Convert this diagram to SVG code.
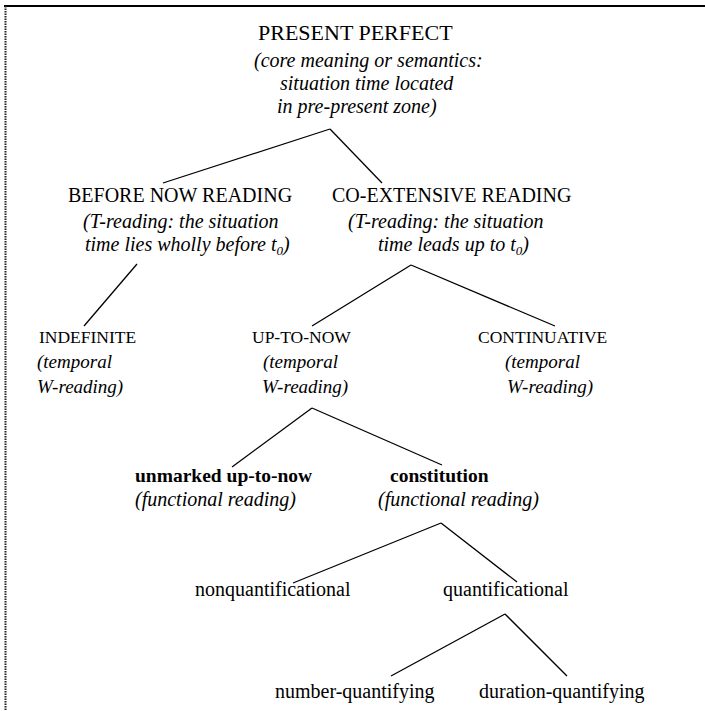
<svg xmlns="http://www.w3.org/2000/svg" width="705" height="711" viewBox="0 0 705 711">
<style>
text{font-family:"Liberation Serif","DejaVu Serif",serif;fill:#000}
.h{font-size:22px}
.r{font-size:20px}
.s{font-size:17.5px}
.i{font-size:20px;font-style:italic}
.it{font-size:19px;font-style:italic}
.b{font-size:19.5px;font-weight:bold}
.sub{font-size:13px}
#connectors line{stroke:#000;stroke-width:1.3;fill:none}
</style>
<rect width="705" height="711" fill="#fff"/>
<g id="frame">
<line x1="4" y1="6" x2="705" y2="6" stroke="#000" stroke-width="2"/>
<line x1="5.5" y1="6" x2="5.5" y2="711" stroke="#222" stroke-width="2" stroke-dasharray="1.5 1"/>
</g>
<g id="connectors">
<line x1="330" y1="129" x2="163" y2="183"/>
<line x1="330" y1="129" x2="382" y2="183"/>
<line x1="137" y1="264" x2="84" y2="326"/>
<line x1="411" y1="265" x2="312" y2="326"/>
<line x1="411" y1="265" x2="555" y2="326"/>
<line x1="312" y1="408" x2="232" y2="467"/>
<line x1="312" y1="408" x2="442" y2="465"/>
<line x1="441" y1="523" x2="293" y2="583"/>
<line x1="441" y1="523" x2="517" y2="582"/>
<line x1="505" y1="614" x2="391" y2="676"/>
<line x1="505" y1="614" x2="567" y2="676"/>
</g>
<g id="present-perfect">
<text class="h" x="258" y="40">PRESENT PERFECT</text>
<text class="i" x="254" y="67">(core meaning or semantics:</text>
<text class="i" x="280" y="90">situation time located</text>
<text class="i" x="277" y="113">in pre-present zone)</text>
</g>
<g id="before-now">
<text class="r" x="68" y="202">BEFORE NOW READING</text>
<text class="i" x="83" y="228">(T-reading: the situation</text>
<text class="i" x="85" y="251">time lies wholly before t<tspan class="sub" dy="4">0</tspan><tspan dy="-4">)</tspan></text>
</g>
<g id="co-extensive">
<text class="r" x="332" y="202">CO-EXTENSIVE READING</text>
<text class="i" x="348" y="228">(T-reading: the situation</text>
<text class="i" x="378" y="251">time leads up to t<tspan class="sub" dy="4">0</tspan><tspan dy="-4">)</tspan></text>
</g>
<g id="indefinite">
<text class="s" x="39" y="343">INDEFINITE</text>
<text class="it" x="37" y="368">(temporal</text>
<text class="it" x="37" y="393">W-reading)</text>
</g>
<g id="up-to-now">
<text class="s" x="252" y="343">UP-TO-NOW</text>
<text class="it" x="263" y="368">(temporal</text>
<text class="it" x="262" y="393">W-reading)</text>
</g>
<g id="continuative">
<text class="s" x="478" y="343">CONTINUATIVE</text>
<text class="it" x="505" y="368">(temporal</text>
<text class="it" x="507" y="393">W-reading)</text>
</g>
<g id="unmarked">
<text class="b" x="135" y="482">unmarked up-to-now</text>
<text class="i" x="135" y="506">(functional reading)</text>
</g>
<g id="constitution">
<text class="b" x="390" y="482">constitution</text>
<text class="i" x="378" y="506">(functional reading)</text>
</g>
<g id="nonquantificational">
<text class="r" x="195" y="596">nonquantificational</text>
</g>
<g id="quantificational">
<text class="r" x="443" y="596">quantificational</text>
</g>
<g id="number-quantifying">
<text class="r" x="275" y="698">number-quantifying</text>
</g>
<g id="duration-quantifying">
<text class="r" x="479" y="698">duration-quantifying</text>
</g>
</svg>
